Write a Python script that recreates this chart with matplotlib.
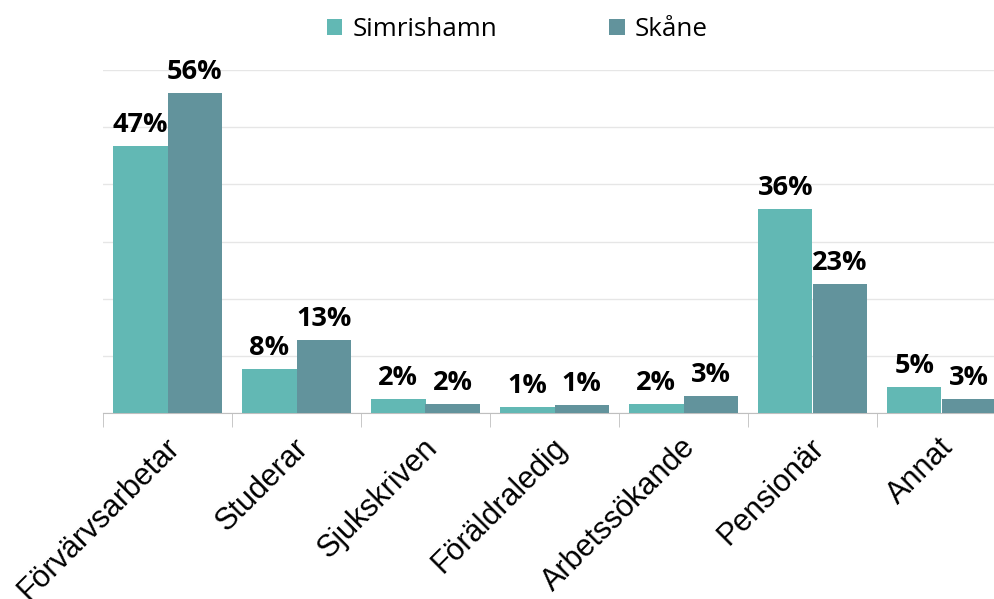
import matplotlib.pyplot as plt
import matplotlib.transforms as mtransforms
import numpy as np

categories = ['Förvärvsarbetar', 'Studerar', 'Sjukskriven', 'Föräldraledig',
              'Arbetssökande', 'Pensionär', 'Annat']
simrishamn = [46.7, 7.7, 2.4, 1.0, 1.5, 35.6, 4.6]
skane = [56.0, 12.8, 1.5, 1.4, 2.9, 22.6, 2.5]
labels_simr = ['47%', '8%', '2%', '1%', '2%', '36%', '5%']
labels_skane = ['56%', '13%', '2%', '1%', '3%', '23%', '3%']

col_simr = '#62B8B4'
col_skane = '#62939C'

fig = plt.figure(figsize=(9.95, 5.99), dpi=100)
ax = fig.add_axes([103/995, 1-413/599, 903/995, 343/599])

x = np.arange(len(categories))
w = 0.422
b1 = ax.bar(x - w/2, simrishamn, w, color=col_simr, label='Simrishamn', zorder=3)
b2 = ax.bar(x + w/2, skane, w, color=col_skane, label='Skåne', zorder=3)

# etichette sopra le barre
for rect, t in zip(b1, labels_simr):
    ax.text(rect.get_x() + rect.get_width()/2, rect.get_height() + 1.4, t,
            ha='center', va='bottom', fontsize=19.5, fontweight='bold', family='Open Sans')
for rect, t in zip(b2, labels_skane):
    ax.text(rect.get_x() + rect.get_width()/2, rect.get_height() + 1.4, t,
            ha='center', va='bottom', fontsize=19.5, fontweight='bold', family='Open Sans')

ax.set_xlim(-0.5, len(categories) - 0.5)
ax.set_ylim(0, 60)
ax.set_yticks(np.arange(0, 61, 10))
ax.set_yticklabels([])
ax.tick_params(axis='y', length=0)
ax.grid(axis='y', color='#e6e6e6', linewidth=1, zorder=0)

ax.set_xticks(x)
ax.set_xticklabels(categories, rotation=45, ha='right', va='top',
                   rotation_mode='anchor', fontsize=22, family='Liberation Sans')
ax.tick_params(axis='x', length=0, pad=14)
offset = mtransforms.ScaledTranslation(-3/100, 0, fig.dpi_scale_trans)
for lab in ax.get_xticklabels():
    lab.set_transform(lab.get_transform() + offset)
ax.set_xticks(np.arange(-0.5, len(categories), 1), minor=True)
ax.tick_params(axis='x', which='minor', length=10, color='#bfbfbf', direction='out')

for s in ['top', 'right', 'left']:
    ax.spines[s].set_visible(False)
ax.spines['bottom'].set_color('#bfbfbf')

fig.legend(loc='upper center', bbox_to_anchor=(0.52, 1.01), ncol=2, frameon=False,
           prop={'family': 'Open Sans', 'size': 18.7},
           handlelength=0.6, handleheight=0.6, columnspacing=4.3, handletextpad=0.4)

fig.savefig('out.png', dpi=100)
